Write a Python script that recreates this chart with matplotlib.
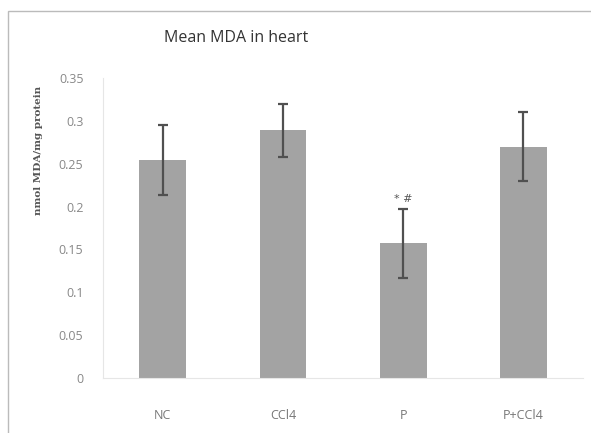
import matplotlib
matplotlib.use('Agg')
import matplotlib.pyplot as plt
from matplotlib.patches import Rectangle

groups = ['NC', 'CCl4', 'P', 'P+CCl4']
mda_mean = [0.254, 0.289, 0.157, 0.270]
mda_err = [0.041, 0.031, 0.040, 0.040]
yticks = [0, 0.05, 0.1, 0.15, 0.2, 0.25, 0.3, 0.35]
ytick_labels = ['0', '0.05', '0.1', '0.15', '0.2', '0.25', '0.3', '0.35']

fig = plt.figure(figsize=(5.91, 4.33), dpi=100)
ax = fig.add_axes([0.174, 0.127, 0.813, 0.693])

x = range(len(groups))
ax.bar(x, mda_mean, width=0.39, color='#a3a3a3', zorder=2)
ax.errorbar(x, mda_mean, yerr=mda_err, fmt='none', ecolor='#505050',
            elinewidth=1.6, capsize=3.5, capthick=1.6, zorder=3)

ax.text(2, 0.203, '* #', ha='center', va='bottom', fontsize=8, color='#555555')

ax.set_xlim(-0.5, 3.5)
ax.set_ylim(0, 0.35)
ax.set_xticks(list(x))
ax.set_xticklabels(groups, fontsize=9, color='#777777', family='Open Sans')
ax.set_yticks(yticks)
ax.set_yticklabels(ytick_labels, fontsize=9, color='#888888', family='Open Sans')
ax.tick_params(axis='x', length=0, pad=22)
ax.tick_params(axis='y', length=0, pad=14)
for s in ['top', 'right']:
    ax.spines[s].set_visible(False)
for s in ['left', 'bottom']:
    ax.spines[s].set_color('#e6e6e6')
    ax.spines[s].set_linewidth(0.8)

ax.set_ylabel('nmol MDA/mg protein', fontsize=7.5, family='DejaVu Serif',
              fontweight='bold', color='#555555')
ax.yaxis.set_label_coords(-0.125, 0.76)

fig.text(0.40, 0.912, 'Mean MDA in heart', ha='center', va='center',
         fontsize=11.5, color='#333333', family='Open Sans')

# outer chart frame
fig.patches.append(Rectangle((0.014, -0.02), 1.1, 0.995, transform=fig.transFigure,
                             fill=False, edgecolor='#bbbbbb', linewidth=1.0))

fig.savefig('out.png', dpi=100)
